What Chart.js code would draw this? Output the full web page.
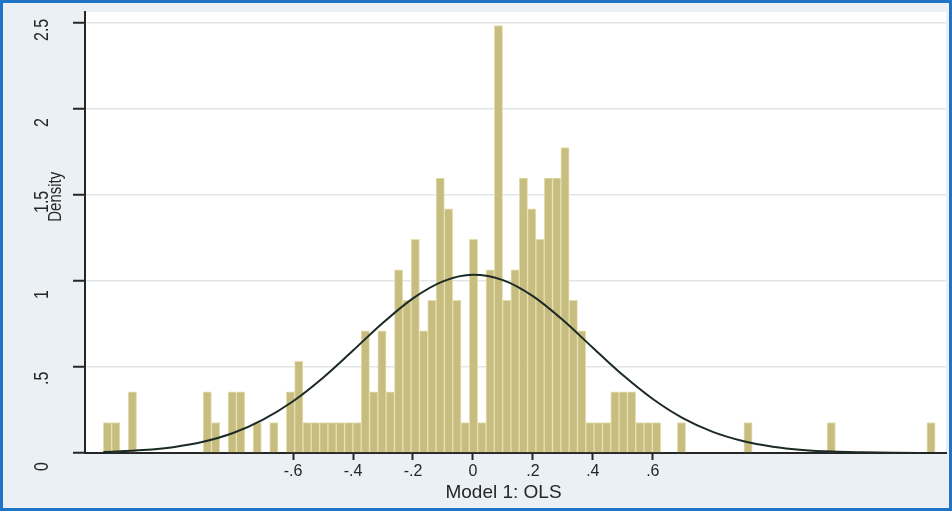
<!DOCTYPE html>
<html>
<head>
<meta charset="utf-8">
<script src="https://cdn.jsdelivr.net/npm/chart.js@4.4.1/dist/chart.umd.min.js"></script>
<style>
  html, body { margin: 0; padding: 0; background: #eaf0f3; }
  canvas { display: block; }
</style>
</head>
<body>
<canvas id="hist" width="952" height="511"></canvas>
<script>
// Residual histogram: 100 bins of width 0.02775 starting at -1.233 (only non-empty bins listed)
const binCenters = [
  -1.2191, -1.1914, -1.1359, -0.8861, -0.8584, -0.8029, -0.7751, -0.7196, -0.6641, -0.6086,
  -0.5809, -0.5531, -0.5254, -0.4976, -0.4699, -0.4421, -0.4144, -0.3866, -0.3589, -0.3311,
  -0.3034, -0.2756, -0.2479, -0.2201, -0.1924, -0.1646, -0.1369, -0.1091, -0.0814, -0.0536,
  -0.0259, 0.0019, 0.0296, 0.0574, 0.0851, 0.1129, 0.1406, 0.1684, 0.1961, 0.2239,
  0.2516, 0.2794, 0.3071, 0.3349, 0.3626, 0.3904, 0.4181, 0.4459, 0.4736, 0.5014,
  0.5291, 0.5569, 0.5846, 0.6124, 0.6956, 0.9176, 1.1951, 1.5281
];
const binDensity = [
  0.1775, 0.1775, 0.3550, 0.3550, 0.1775, 0.3550, 0.3550, 0.1775, 0.1775, 0.3550,
  0.5326, 0.1775, 0.1775, 0.1775, 0.1775, 0.1775, 0.1775, 0.1775, 0.7101, 0.3550,
  0.7101, 0.3550, 1.0651, 0.8876, 1.2426, 0.7101, 0.8876, 1.5977, 1.4202, 0.8876,
  0.1775, 1.2426, 0.1775, 1.0651, 2.4853, 0.8876, 1.0651, 1.5977, 1.4202, 1.2426,
  1.5977, 1.5977, 1.7752, 0.8876, 0.7101, 0.1775, 0.1775, 0.1775, 0.3550, 0.3550,
  0.3550, 0.1775, 0.1775, 0.1775, 0.1775, 0.1775, 0.1775, 0.1775
];

// Normal density overlay
const curveX = [-1.233, -1.1, -1.0, -0.9, -0.8, -0.7, -0.6, -0.5, -0.4, -0.3, -0.2, -0.1, 0.0,
                0.1, 0.2, 0.3, 0.4, 0.5, 0.6, 0.7, 0.8, 0.9, 1.0, 1.1, 1.2, 1.3, 1.4, 1.542];
const curveY = [0.006, 0.017, 0.034, 0.065, 0.116, 0.194, 0.301, 0.438, 0.596, 0.757, 0.899, 0.998, 1.036,
                1.005, 0.912, 0.773, 0.612, 0.453, 0.314, 0.203, 0.123, 0.070, 0.037, 0.018, 0.008, 0.004, 0.0015, 0.0004];

const xTicks = [-0.6, -0.4, -0.2, 0, 0.2, 0.4, 0.6];
const xTickLabels = ['-.6', '-.4', '-.2', '0', '.2', '.4', '.6'];
const yTicks = [0, 0.5, 1, 1.5, 2, 2.5];
const yTickLabels = ['0', '.5', '1', '1.5', '2', '2.5'];
const xTitle = 'Model 1: OLS';
const yTitle = 'Density';

const INK = '#262626';
const FONT = '"Liberation Sans", Arial, sans-serif';

// Page background, white plot region, rotated y labels, titles and outer frame
const decor = {
  id: 'decor',
  beforeDraw(chart) {
    const { ctx, chartArea: a, width, height } = chart;
    ctx.save();
    ctx.fillStyle = '#eaf0f3';
    ctx.fillRect(0, 0, width, height);
    ctx.fillStyle = '#ffffff';
    ctx.fillRect(a.left, a.top, a.right - a.left, a.bottom - a.top);
    ctx.restore();
  },
  afterDraw(chart) {
    const { ctx, chartArea: a, width, height } = chart;
    const ys = chart.scales.y;
    ctx.save();
    ctx.fillStyle = INK;

    // y tick labels, reading bottom to top
    ctx.font = '16px ' + FONT;
    ctx.textAlign = 'left';
    ctx.textBaseline = 'middle';
    yTicks.forEach((v, i) => {
      const py = ys.getPixelForValue(v);
      ctx.save();
      ctx.translate(42, py + 18);
      ctx.scale(1.25, 1);
      ctx.rotate(-Math.PI / 2);
      ctx.fillText(yTickLabels[i], 0, 0);
      ctx.restore();
    });

    // y axis title
    ctx.font = '15px ' + FONT;
    ctx.textAlign = 'center';
    ctx.save();
    ctx.translate(56, ys.getPixelForValue(1.49));
    ctx.scale(1.25, 1);
    ctx.rotate(-Math.PI / 2);
    ctx.fillText(yTitle, 0, 0);
    ctx.restore();

    // x axis title
    ctx.font = '19px ' + FONT;
    ctx.textAlign = 'center';
    ctx.textBaseline = 'middle';
    ctx.fillText(xTitle, (a.left + a.right) / 2 - 12, 493);

    // outer frame
    ctx.strokeStyle = '#1f74c6';
    ctx.lineWidth = 3;
    ctx.strokeRect(1.5, 1.5, width - 3, height - 3);
    ctx.restore();
  }
};

new Chart(document.getElementById('hist'), {
  type: 'bar',
  data: {
    datasets: [
      {
        type: 'line',
        order: 0,
        data: curveX.map((x, i) => ({ x, y: curveY[i] })),
        borderColor: '#1c2a26',
        borderWidth: 2,
        pointRadius: 0,
        fill: false,
        cubicInterpolationMode: 'monotone'
      },
      {
        type: 'bar',
        order: 1,
        data: binCenters.map((x, i) => ({ x, y: binDensity[i] })),
        backgroundColor: '#c7bd81',
        borderColor: '#e6dfab',
        borderWidth: 1,
        barPercentage: 1,
        categoryPercentage: 1
      }
    ]
  },
  options: {
    responsive: false,
    devicePixelRatio: 1,
    animation: false,
    layout: { padding: { top: 12, right: 6, left: 0, bottom: 0 } },
    plugins: { legend: { display: false }, tooltip: { enabled: false } },
    scales: {
      x: {
        type: 'linear',
        offset: false,
        min: -1.294,
        max: 1.578,
        afterBuildTicks: s => { s.ticks = xTicks.map(v => ({ value: v })); },
        afterFit: s => { s.height = 58; },
        grid: { offset: false, drawOnChartArea: false, drawTicks: true, tickLength: 7, tickColor: INK, tickWidth: 2 },
        border: { color: INK, width: 2 },
        ticks: {
          padding: 2,
          color: INK,
          font: { family: FONT, size: 16 },
          maxRotation: 0,
          callback: (v) => xTickLabels[xTicks.indexOf(v)] ?? ''
        }
      },
      y: {
        min: 0,
        max: 2.564,
        afterBuildTicks: s => { s.ticks = yTicks.map(v => ({ value: v })); },
        afterFit: s => { s.width = 85; },
        grid: { color: '#e2e5e7', lineWidth: 1.5, drawTicks: true, tickLength: 12, tickColor: INK, tickWidth: 2 },
        border: { color: INK, width: 2 },
        ticks: { display: false }
      }
    }
  },
  plugins: [decor]
});
</script>
</body>
</html>
